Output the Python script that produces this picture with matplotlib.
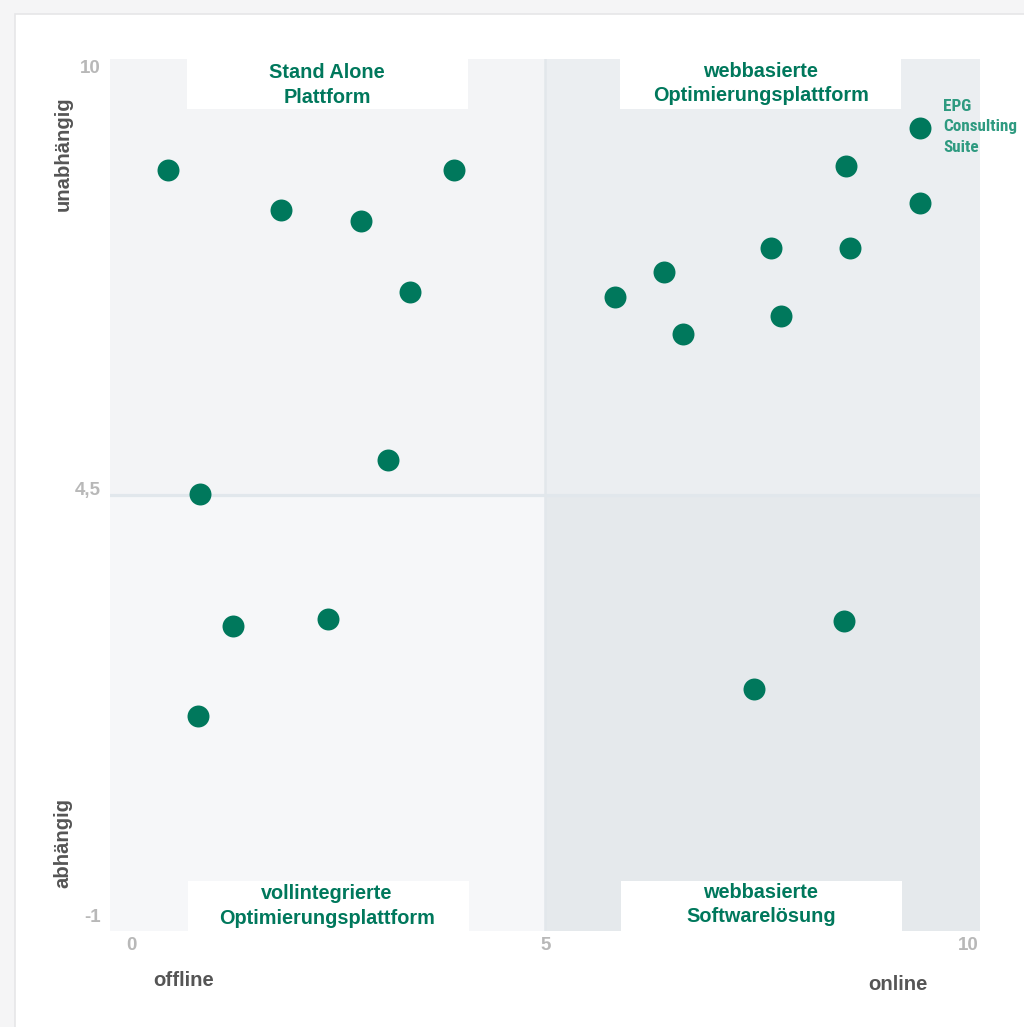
import matplotlib
matplotlib.use("Agg")
import matplotlib.pyplot as plt
from matplotlib.patches import Rectangle
from matplotlib import font_manager
from matplotlib.font_manager import FontProperties

# ---------------- data ----------------
x_offline_vals = [0.67, 1.96, 2.89, 3.95, 3.45, 3.20, 1.03, 1.41, 2.51, 1.01]
y_offline_vals = [8.60, 8.10, 7.96, 8.60, 7.06, 4.94, 4.51, 2.85, 2.94, 1.71]
x_online_vals = [9.31, 8.46, 9.31, 7.60, 8.51, 6.37, 5.81, 6.59, 7.71, 8.44, 7.40]
y_online_vals = [9.13, 8.65, 8.18, 7.61, 7.61, 7.31, 7.00, 6.53, 6.76, 2.91, 2.05]
highlight_label = "EPG\nConsulting\nSuite"
highlight_index = 0  # index in online lists

x_ticks = [0, 5, 10]
x_tick_labels = ["0", "5", "10"]
y_ticks = [10, 4.5, -1]
y_tick_labels = ["10", "4,5", "-1"]
x_split = 5
y_split = 4.5
quadrant_titles = {
    "tl": "Stand Alone\nPlattform",
    "tr": "webbasierte\nOptimierungsplattform",
    "bl": "vollintegrierte\nOptimierungsplattform",
    "br": "webbasierte\nSoftwarelösung",
}
x_axis_labels = ["offline", "online"]
y_axis_labels = ["unabhängig", "abhängig"]

# ---------------- fonts ----------------
names = {f.name for f in font_manager.fontManager.ttflist}
main_font = "Liberation Sans" if "Liberation Sans" in names else "DejaVu Sans"


def find_condensed_bold():
    cands = []
    for f in font_manager.fontManager.ttflist:
        st = str(f.stretch).lower()
        nm = f.name.lower()
        fn = f.fname.lower()
        is_cond = ("condensed" in st or "narrow" in nm or "condensed" in nm
                   or "condensed" in fn or "narrow" in fn)
        w = f.weight if isinstance(f.weight, int) else (700 if "bold" in str(f.weight) else 400)
        is_bold = w >= 600 or "bold" in fn
        if is_cond and is_bold and "italic" not in fn and "oblique" not in fn and f.style == "normal":
            pri = 0 if "narrow" in fn and "liberation" in fn else (1 if "roboto" in fn else 2)
            if "extra" in fn or "ultra" in fn or "semi" in fn:
                pri += 5
            cands.append((pri, f.fname))
    cands.sort()
    return cands[0][1] if cands else None


cond_path = find_condensed_bold()
if cond_path:
    narrow_fp = FontProperties(fname=cond_path, size=12.3)
else:
    narrow_fp = FontProperties(family=main_font, weight="bold", size=10.5)

GREEN = "#00785c"
LIGHT_GREEN = "#2e9a80"
TICK_GREY = "#b8b8b8"
LABEL_GREY = "#555555"

W, H = 1024, 1027
fig = plt.figure(figsize=(W / 100, H / 100), dpi=100)
fig.patch.set_facecolor("#f5f5f6")
# white card
fig.patches.append(Rectangle((15 / W, -0.01), 1.1, (H - 14) / H + 0.01,
                             transform=fig.transFigure, facecolor="white",
                             edgecolor="#e6e6e8", linewidth=1.2, zorder=-10))

ax = fig.add_axes([110 / W, 96 / H, 870 / W, 872 / H])
ax.set_zorder(5)
ax.set_xlim(0, 10)
ax.set_ylim(-1, 10)
ax.set_facecolor("none")
for s in ax.spines.values():
    s.set_visible(False)
ax.set_xticks([])
ax.set_yticks([])

x0, x1 = ax.get_xlim()
y0, y1 = ax.get_ylim()
ax.add_patch(Rectangle((x0, y_split), x_split - x0, y1 - y_split, facecolor="#f3f4f6", lw=0, zorder=0))
ax.add_patch(Rectangle((x0, y0), x_split - x0, y_split - y0, facecolor="#f6f7f9", lw=0, zorder=0))
ax.add_patch(Rectangle((x_split, y_split), x1 - x_split, y1 - y_split, facecolor="#ebeef1", lw=0, zorder=0))
ax.add_patch(Rectangle((x_split, y0), x1 - x_split, y_split - y0, facecolor="#e5e9ec", lw=0, zorder=0))
ax.axhline(y_split, color="#e1e7ec", lw=2.3, zorder=1)
ax.axvline(x_split, color="#e2e7eb", lw=1.8, zorder=1)

# white title boxes
bw, bh = 281 / 870, 50 / 872
for bx, by in [(77 / 870, 1 - bh), (510 / 870, 1 - bh), (78 / 870, 0), (511 / 870, 0)]:
    ax.add_patch(Rectangle((bx, by), bw, bh, transform=ax.transAxes,
                           facecolor="white", lw=0, zorder=2))

tkw = dict(transform=ax.transAxes, ha="center", va="center", color=GREEN,
           fontsize=14.3, fontweight="bold", family=main_font, linespacing=1.36, zorder=3)
ax.text(0.2494, 0.9700, quadrant_titles["tl"], **tkw)
ax.text(0.748, 0.9718, quadrant_titles["tr"], **tkw)
ax.text(0.2494, 0.0285, quadrant_titles["bl"], **tkw)
ax.text(0.748, 0.0305, quadrant_titles["br"], **tkw)

# points
ax.scatter(x_offline_vals, y_offline_vals, s=250, color=GREEN, lw=0, zorder=4)
ax.scatter(x_online_vals, y_online_vals, s=250, color=GREEN, lw=0, zorder=4)
ax.annotate(highlight_label,
            xy=(x_online_vals[highlight_index], y_online_vals[highlight_index]),
            xytext=(23, 1), textcoords="offset pixels", ha="left", va="center",
            color=LIGHT_GREEN, fontproperties=narrow_fp,
            linespacing=1.48, annotation_clip=False, zorder=5)

# tick labels
tick_kw = dict(color=TICK_GREY, fontsize=13.5, fontweight="bold", family=main_font,
               annotation_clip=False)
x_offsets = [21, 1, -12]
for v, lab, dx in zip(x_ticks, x_tick_labels, x_offsets):
    ax.annotate(lab, xy=(v, 0), xycoords=("data", "axes fraction"),
                xytext=(dx, -14), textcoords="offset pixels", ha="center", va="center", **tick_kw)
y_offsets = [-9, 5, 14]
for v, lab, dy in zip(y_ticks, y_tick_labels, y_offsets):
    ax.annotate(lab, xy=(0, v), xycoords=("axes fraction", "data"),
                xytext=(-9, dy), textcoords="offset pixels", ha="right", va="center", **tick_kw)

# axis labels
lkw = dict(transform=ax.transAxes, color=LABEL_GREY, fontsize=14.6,
           fontweight="bold", family=main_font, ha="center", va="center")
ax.text(0.085, -0.0573, x_axis_labels[0], **lkw)
ax.text(0.9057, -0.0608, x_axis_labels[1], **lkw)
ax.text(-0.054, 0.891, y_axis_labels[0], rotation=90, **lkw)
ax.text(-0.054, 0.101, y_axis_labels[1], rotation=90, **lkw)

fig.savefig("out.png", dpi=100, facecolor=fig.get_facecolor())
